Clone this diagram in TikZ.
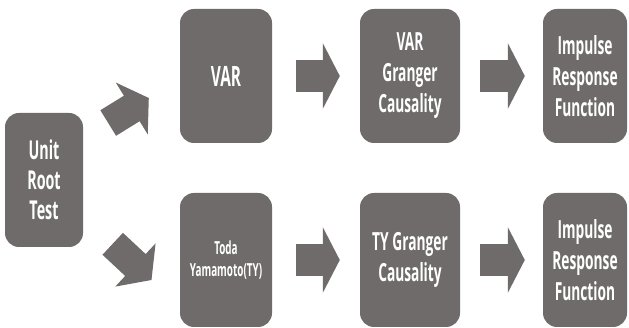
\documentclass[tikz,border=0pt]{standalone}
\usepackage{fontspec}
\setmainfont{Open Sans}[FakeStretch=0.55]
\usetikzlibrary{arrows.meta,calc}

\begin{document}
\begin{tikzpicture}[x=1pt, y=-1pt,
    box/.style={fill=boxgray, rounded corners=14pt, text=white, align=center,
        inner sep=0pt, minimum height=134pt,
        font=\bfseries\fontsize{25}{31}\selectfont},
    blockarrow/.style={draw=boxgray, line width=32pt,
        -{Triangle[length=17pt, width=65pt]}}]

    \definecolor{boxgray}{RGB}{112,107,107}

    \useasboundingbox (0,0) rectangle (629,328);

    \node[box, minimum width=78pt, minimum height=134pt,
          font=\bfseries\fontsize{26}{30}\selectfont] (unit) at (44,180) {Unit\\Root\\Test};

    \node[box, minimum width=92pt, font=\bfseries\fontsize{28}{32}\selectfont] (var) at (226,76) {VAR};
    \node[box, minimum width=100pt] (vargc) at (410,76) {VAR\\Granger\\Causality};
    \node[box, minimum width=84pt] (irfa) at (585,76) {Impulse\\Response\\Function};

    \node[box, minimum width=92pt, font=\bfseries\fontsize{18}{22}\selectfont] (toda) at (226,260) {Toda\\Yamamoto(TY)};
    \node[box, minimum width=100pt] (tygc) at (410,260) {TY Granger\\Causality};
    \node[box, minimum width=84pt] (irfb) at (585,260) {Impulse\\Response\\Function};

    % rows
    \draw[blockarrow, shorten <=24pt, shorten >=20pt] (var) -- (vargc);
    \draw[blockarrow, shorten <=20pt, shorten >=18pt] (vargc) -- (irfa);
    \draw[blockarrow, shorten <=24pt, shorten >=20pt] (toda) -- (tygc);
    \draw[blockarrow, shorten <=20pt, shorten >=18pt] (tygc) -- (irfb);

    % branches
    \draw[blockarrow, line width=30pt, -{Triangle[length=20pt, width=60pt]}]
        ($(unit.east)+(25,-57)$) -- ($(var.west)+(-31,22)$);
    \draw[blockarrow, line width=30pt, -{Triangle[length=22pt, width=58pt]}]
        ($(unit.east)+(29.5,63.8)$) -- ($(toda.west)+(-28.3,20)$);
\end{tikzpicture}
\end{document}
